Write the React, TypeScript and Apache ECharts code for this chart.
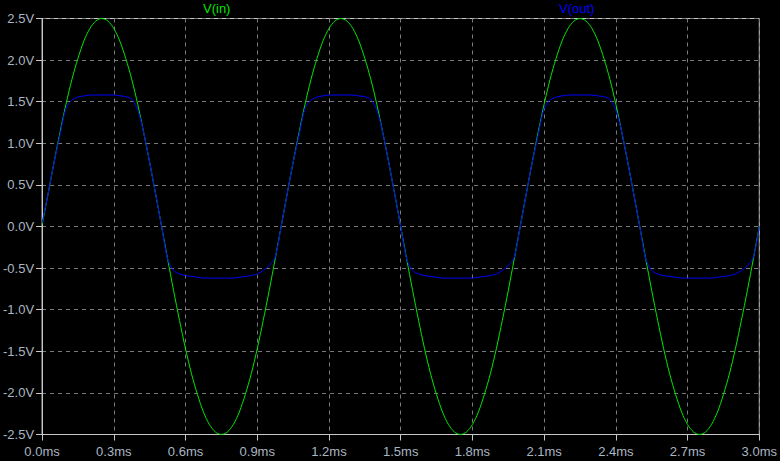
import React, { useEffect, useRef } from "react";
import * as echarts from "echarts";

const timeMs: number[] = [
  0, 0.025, 0.05, 0.075, 0.1, 0.125, 0.15, 0.175, 0.2, 0.225, 0.25, 0.275, 0.3, 0.325, 0.35, 0.375, 0.4, 0.425, 0.45, 0.475,
  0.5, 0.525, 0.55, 0.575, 0.6, 0.625, 0.65, 0.675, 0.7, 0.725, 0.75, 0.775, 0.8, 0.825, 0.85, 0.875, 0.9, 0.925, 0.95, 0.975,
  1.0, 1.025, 1.05, 1.075, 1.1, 1.125, 1.15, 1.175, 1.2, 1.225, 1.25, 1.275, 1.3, 1.325, 1.35, 1.375, 1.4, 1.425, 1.45, 1.475,
  1.5, 1.525, 1.55, 1.575, 1.6, 1.625, 1.65, 1.675, 1.7, 1.725, 1.75, 1.775, 1.8, 1.825, 1.85, 1.875, 1.9, 1.925, 1.95, 1.975,
  2.0, 2.025, 2.05, 2.075, 2.1, 2.125, 2.15, 2.175, 2.2, 2.225, 2.25, 2.275, 2.3, 2.325, 2.35, 2.375, 2.4, 2.425, 2.45, 2.475,
  2.5, 2.525, 2.55, 2.575, 2.6, 2.625, 2.65, 2.675, 2.7, 2.725, 2.75, 2.775, 2.8, 2.825, 2.85, 2.875, 2.9, 2.925, 2.95, 2.975,
  3.0,
];

const vIn: number[] = [
  0.02, 0.39, 0.77, 1.13, 1.47, 1.77, 2.02, 2.23, 2.38, 2.47, 2.5, 2.47, 2.38, 2.23, 2.02, 1.77, 1.47, 1.13, 0.77, 0.39,
  0.0, -0.39, -0.77, -1.13, -1.47, -1.77, -2.02, -2.23, -2.38, -2.47, -2.5, -2.47, -2.38, -2.23, -2.02, -1.77, -1.47, -1.13, -0.77, -0.39,
  0.0, 0.39, 0.77, 1.13, 1.47, 1.77, 2.02, 2.23, 2.38, 2.47, 2.5, 2.47, 2.38, 2.23, 2.02, 1.77, 1.47, 1.13, 0.77, 0.39,
  0.0, -0.39, -0.77, -1.13, -1.47, -1.77, -2.02, -2.23, -2.38, -2.47, -2.5, -2.47, -2.38, -2.23, -2.02, -1.77, -1.47, -1.13, -0.77, -0.39,
  0.0, 0.39, 0.77, 1.13, 1.47, 1.77, 2.02, 2.23, 2.38, 2.47, 2.5, 2.47, 2.38, 2.23, 2.02, 1.77, 1.47, 1.13, 0.77, 0.39,
  0.0, -0.39, -0.77, -1.13, -1.47, -1.77, -2.02, -2.23, -2.38, -2.47, -2.5, -2.47, -2.38, -2.23, -2.02, -1.77, -1.47, -1.13, -0.77, -0.39,
  0.0,
];

const vOut: number[] = [
  0.04, 0.39, 0.77, 1.1, 1.42, 1.52, 1.555, 1.57, 1.58, 1.58, 1.58, 1.58, 1.58, 1.57, 1.56, 1.53, 1.4, 1.13, 0.77, 0.39,
  0.0, -0.39, -0.53, -0.57, -0.59, -0.6, -0.61, -0.62, -0.62, -0.62, -0.62, -0.62, -0.62, -0.61, -0.6, -0.59, -0.57, -0.53, -0.47, -0.37,
  0.0, 0.39, 0.77, 1.1, 1.42, 1.52, 1.555, 1.57, 1.58, 1.58, 1.58, 1.58, 1.58, 1.57, 1.56, 1.53, 1.4, 1.13, 0.77, 0.39,
  0.0, -0.39, -0.53, -0.57, -0.59, -0.6, -0.61, -0.62, -0.62, -0.62, -0.62, -0.62, -0.62, -0.61, -0.6, -0.59, -0.57, -0.53, -0.47, -0.37,
  0.0, 0.39, 0.77, 1.1, 1.42, 1.52, 1.555, 1.57, 1.58, 1.58, 1.58, 1.58, 1.58, 1.57, 1.56, 1.53, 1.4, 1.13, 0.77, 0.39,
  0.0, -0.39, -0.53, -0.57, -0.59, -0.6, -0.61, -0.62, -0.62, -0.62, -0.62, -0.62, -0.62, -0.61, -0.6, -0.59, -0.57, -0.53, -0.47, -0.37,
  0.0,
];

const seriesNames = ["V(in)", "V(out)"];

const labelColor = "#aab6c2";
const frameColor = "#c8c8c8";
const gridColor = "#7a7a7a";
const font = "'Liberation Sans', Arial, sans-serif";

export default function App() {
  const ref = useRef<HTMLDivElement>(null);
  useEffect(() => {
    if (!ref.current) return;
    const chart = echarts.init(ref.current, undefined, { renderer: "svg" });
    chart.setOption({
      animation: false,
      backgroundColor: "#000000",
      grid: {
        left: 40,
        right: 17,
        top: 18.5,
        bottom: 26.5,
        show: true,
        borderColor: frameColor,
        borderWidth: 1,
      },
      graphic: [
        {
          type: "text",
          left: 218 - 15,
          top: 2,
          style: { text: seriesNames[0], fill: "#00e600", font: `13px ${font}` },
        },
        {
          type: "text",
          left: 578 - 19,
          top: 2,
          style: { text: seriesNames[1], fill: "#0000ff", font: `13px ${font}` },
        },
      ],
      xAxis: {
        type: "value",
        min: 0,
        max: 3,
        interval: 0.3,
        axisLine: { show: true, onZero: false, lineStyle: { color: frameColor, width: 1 } },
        axisTick: { show: true, inside: false, length: 6, lineStyle: { color: frameColor } },
        axisLabel: {
          color: labelColor,
          fontSize: 13,
          fontFamily: font,
          margin: 10,
          formatter: (v: number) => v.toFixed(1) + "ms",
        },
        splitLine: { show: true, lineStyle: { color: gridColor, type: [4, 4], width: 1 } },
      },
      yAxis: {
        type: "value",
        min: -2.5,
        max: 2.5,
        interval: 0.5,
        axisLine: { show: true, onZero: false, lineStyle: { color: frameColor, width: 1 } },
        axisTick: { show: true, inside: false, length: 6, lineStyle: { color: frameColor } },
        axisLabel: {
          color: labelColor,
          fontSize: 13,
          fontFamily: font,
          margin: 8,
          formatter: (v: number) => v.toFixed(1) + "V",
        },
        splitLine: { show: true, lineStyle: { color: gridColor, type: [4, 4], width: 1 } },
      },
      series: [
        {
          name: seriesNames[0],
          type: "line",
          data: timeMs.map((t, i) => [t, vIn[i]]),
          showSymbol: false,
          smooth: 0.3,
          lineStyle: { color: "#00e600", width: 1 },
          z: 2,
        },
        {
          name: seriesNames[1],
          type: "line",
          data: timeMs.map((t, i) => [t, vOut[i]]),
          showSymbol: false,
          smooth: 0.3,
          lineStyle: { color: "#0000ff", width: 1 },
          z: 3,
        },
      ],
    });
    return () => chart.dispose();
  }, []);
  return (
    <div
      ref={ref}
      style={{ position: "absolute", left: 0, top: 0, width: 780, height: 461, background: "#000" }}
    />
  );
}
